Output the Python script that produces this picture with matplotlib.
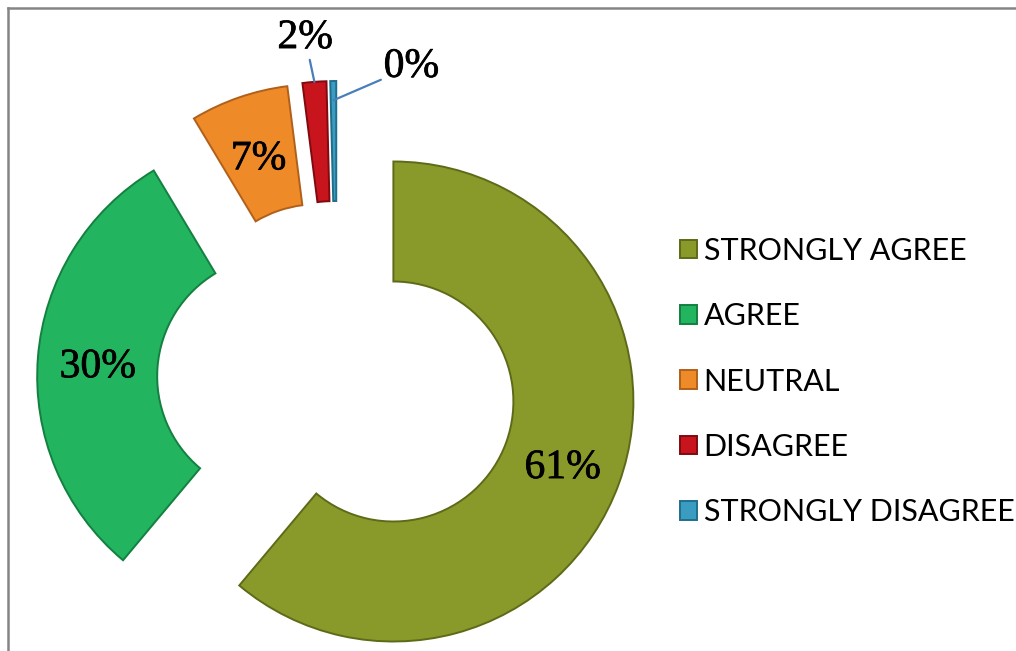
import numpy as np
import matplotlib.pyplot as plt
import matplotlib.patheffects as pe
from matplotlib.lines import Line2D

# survey responses, share of respondents in %
categories = ['STRONGLY AGREE', 'AGREE', 'NEUTRAL', 'DISAGREE', 'STRONGLY DISAGREE']
shares = [61.1, 30.3, 6.6, 1.6, 0.4]
colors = ['#8A9A2A', '#22B45E', '#EE8A28', '#C8141C', '#3A9CC0']
edges = ['#5E6A18', '#138040', '#B0601A', '#800A10', '#1F6E8C']

fig = plt.figure(figsize=(10.16, 6.51), dpi=100)
ax = fig.add_axes([0, 0, 1, 1])

wedges, _ = ax.pie(shares, colors=colors, startangle=90, counterclock=False,
                   explode=[0.25] * len(shares), radius=1.0,
                   wedgeprops=dict(width=0.5, linewidth=1.4))
for w, ec in zip(wedges, edges):
    w.set_edgecolor(ec)

label_font = dict(family='Liberation Serif', fontsize=30, color='black',
                  path_effects=[pe.withStroke(linewidth=0.5, foreground='black')])

# big slices get the value inside the ring, the thin ones get a leader line
outside = {3: (-0.133, 1.43, 1.0), 4: (0.31, 1.31, 0.92)}
for i, (w, v) in enumerate(zip(wedges, shares)):
    ang = np.deg2rad((w.theta1 + w.theta2) / 2)
    cx, cy = w.center
    txt = f"{v:.0f}%"
    if i in outside:
        tx, ty, r = outside[i]
        ax.annotate(txt, xy=(cx + r * np.cos(ang), cy + r * np.sin(ang)), xytext=(tx, ty),
                    ha='center', va='center', **label_font,
                    arrowprops=dict(arrowstyle='-', color='#4A7EBB', lw=1.6,
                                    shrinkA=0, shrinkB=0))
    else:
        ax.text(cx + 0.75 * np.cos(ang), cy + 0.75 * np.sin(ang) - 0.02, txt,
                ha='center', va='center', **label_font)

ax.set_xlim(-1.404, 2.829)
ax.set_ylim(-1.125, 1.5875)
ax.set_aspect('equal')
ax.axis('off')

leg = ax.legend(wedges, categories, loc='upper left', bbox_to_anchor=(0.669, 0.636),
                frameon=False, prop=dict(family='Lato', size=22),
                handlelength=0.56, handleheight=0.56, handletextpad=0.22,
                labelspacing=1.22, borderpad=0, borderaxespad=0)

# frame remains on the left and top
fig.add_artist(Line2D([8 / 1016, 8 / 1016], [0, 1 - 8 / 651], transform=fig.transFigure,
                      color='#858585', lw=1.8))
fig.add_artist(Line2D([8 / 1016, 1], [1 - 8 / 651, 1 - 8 / 651], transform=fig.transFigure,
                      color='#858585', lw=1.8))

fig.savefig('out.png', dpi=100, facecolor='white')
